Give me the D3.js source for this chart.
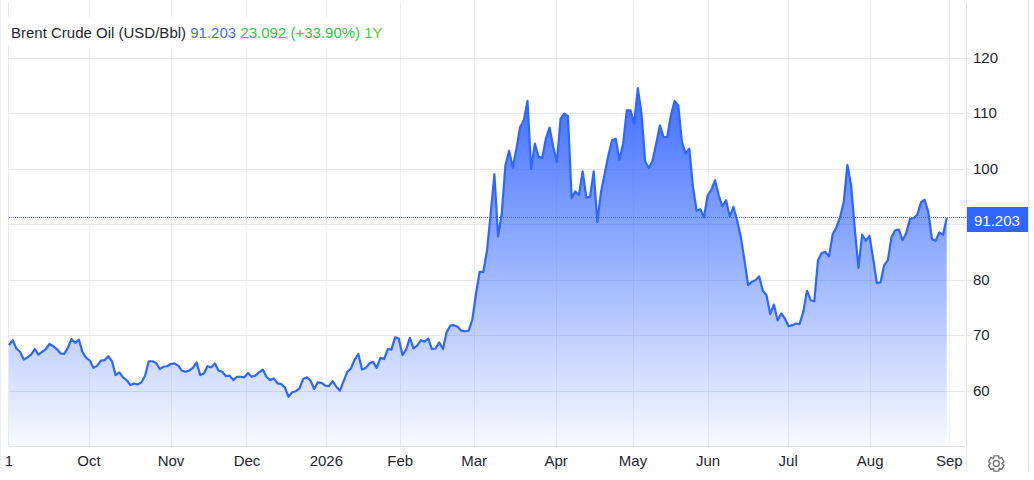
<!DOCTYPE html>
<html><head><meta charset="utf-8">
<script src="https://cdn.jsdelivr.net/npm/d3@7/dist/d3.min.js"></script>
<style>html,body{margin:0;padding:0;background:#fff}svg{display:block}text{font-family:"Liberation Sans",Arial,sans-serif}</style>
</head><body><svg id="c" width="1034" height="480"></svg>
<script>
const titleText="Brent Crude Oil (USD/Bbl)";
const lastValue=91.203;
const changeText="23.092";
const pctText="(+33.90%)";
const rangeText="1Y";
const prices=[68.3,69.2,67.7,67.1,65.7,66.1,66.6,67.6,66.6,67.1,67.6,68.5,68.1,67.6,66.8,66.7,67.8,69.4,68.7,69.3,67.0,66.0,65.5,64.2,64.6,65.5,65.6,66.3,65.4,62.9,63.4,62.5,62.0,61.1,61.4,61.2,61.6,62.8,65.4,65.4,65.1,64.0,64.4,64.5,64.9,65.0,64.6,63.7,63.5,63.7,64.2,65.2,62.9,63.2,64.5,64.3,65.0,63.7,63.5,62.7,62.8,62.0,62.6,62.6,62.5,63.3,62.6,62.8,63.4,63.9,62.6,62.0,62.3,61.4,61.3,60.7,59.0,59.8,60.0,60.5,62.2,62.5,61.9,60.4,61.6,61.5,61.0,60.9,61.8,60.8,60.1,
61.8,63.5,64.1,65.7,66.7,63.9,64.2,65.0,65.3,64.2,66.0,65.8,67.6,67.5,69.7,69.5,66.5,67.5,69.6,67.7,68.2,69.2,68.9,69.5,67.6,67.7,68.8,67.6,70.6,71.8,71.9,71.6,70.9,70.8,70.9,72.9,77.6,81.5,81.5,85.4,92.0,99.1,87.9,92.0,100.7,103.3,100.3,103.7,107.6,108.8,112.3,100.0,104.6,102.3,102.0,105.5,107.5,104.0,101.3,109.1,110.0,109.6,94.8,96.0,95.3,99.6,94.9,95.0,99.6,90.5,95.9,99.2,102.5,105.2,105.5,101.7,104.6,110.6,110.6,108.2,114.6,110.0,101.4,100.2,101.5,104.6,107.9,105.8,105.8,109.7,112.3,111.5,
104.9,102.8,103.7,96.8,92.5,92.8,91.3,95.3,96.3,98.0,95.3,93.3,94.4,91.5,93.2,90.8,87.8,83.6,79.1,79.7,80.0,80.7,78.1,77.3,73.9,75.6,72.8,74.0,73.1,71.7,71.9,72.2,72.1,74.3,78.1,76.4,76.2,83.6,84.9,85.1,84.3,88.3,89.5,91.3,94.1,100.8,97.1,89.3,82.2,88.2,87.1,88.0,83.9,79.5,79.6,82.7,83.6,87.8,89.0,89.1,87.2,88.5,91.0,91.2,91.8,94.0,94.5,92.3,87.4,87.1,88.6,88.2,91.203];
const yTicks=[60,70,80,90,100,110,120];
const yLabels=[60,70,80,null,100,110,120];
const xTickIdx=[0,21.76,44.06,64.72,86.3,106.4,126.5,148.8,169.7,190.1,211.9,234.2,255.7];
const xTickLabels=["1","Oct","Nov","Dec","2026","Feb","Mar","Apr","May","Jun","Jul","Aug","Sep"];

const svg=d3.select("#c");
const font='"Liberation Sans",Arial,sans-serif';
const ink="#23262e";
const x=d3.scaleLinear().domain([0,prices.length-1]).range([9,946.7]);
const y=d3.scaleLinear().domain([50,120]).range([446.7,58.2]);
const snap=v=>Math.floor(v)+0.5;
const defs=svg.append("defs");
const g=defs.append("linearGradient").attr("id","fill").attr("gradientUnits","userSpaceOnUse")
 .attr("x1",0).attr("x2",0).attr("y1",y(114.6)).attr("y2",446);
g.append("stop").attr("offset",0).attr("stop-color","#3366ff").attr("stop-opacity",0.95);
g.append("stop").attr("offset",1).attr("stop-color","#3366ff").attr("stop-opacity",0.03);

// outer frame
svg.append("line").attr("x1",0.5).attr("x2",0.5).attr("y1",0).attr("y2",471.5).attr("stroke","#eceef2");
svg.append("line").attr("x1",1028.5).attr("x2",1028.5).attr("y1",0).attr("y2",471.5).attr("stroke","#e6e7ee");

// grid
svg.append("g").selectAll("line").data(xTickIdx.slice(1)).join("line")
 .attr("x1",d=>snap(x(d))).attr("x2",d=>snap(x(d))).attr("y1",2).attr("y2",446)
 .attr("stroke","#eef0f5");
svg.append("line").attr("x1",8.5).attr("x2",8.5).attr("y1",2).attr("y2",446.5).attr("stroke","#e8eaee");
svg.append("line").attr("x1",966.5).attr("x2",966.5).attr("y1",2).attr("y2",446.5).attr("stroke","#e0e2e6");
svg.append("g").selectAll("line").data(yTicks).join("line")
 .attr("x1",9).attr("x2",965).attr("y1",d=>snap(y(d))).attr("y2",d=>snap(y(d)))
 .attr("stroke","#e6e8eb");
svg.append("g").selectAll("line").data(yTicks).join("line")
 .attr("x1",967).attr("x2",971).attr("y1",d=>snap(y(d))).attr("y2",d=>snap(y(d)))
 .attr("stroke","#e6e8eb");
// white box behind the title
svg.append("rect").attr("x",5).attr("y",17).attr("width",381).attr("height",29).attr("fill","#fff");

// area and line
const area=d3.area().x((d,i)=>x(i)).y0(446).y1(d=>y(d));
const line=d3.line().x((d,i)=>x(i)).y(d=>y(d));
svg.append("path").datum(prices).attr("d",area).attr("fill","url(#fill)");
svg.append("path").datum(prices).attr("d",line).attr("fill","none").attr("stroke","#2f66ff").attr("stroke-width",2.2).attr("stroke-linejoin","round");

// base and lower separator
svg.append("line").attr("x1",8.5).attr("x2",965).attr("y1",446.5).attr("y2",446.5).attr("stroke","#e0e2e6");
svg.append("line").attr("x1",966.5).attr("x2",966.5).attr("y1",450).attr("y2",471.5).attr("stroke","#e8eaee");

// last-value dotted line
const lastY=snap(y(lastValue)-0.6);
svg.append("line").attr("x1",9).attr("x2",967).attr("y1",lastY).attr("y2",lastY)
 .attr("stroke","#4a68d8").attr("stroke-width",1).attr("stroke-dasharray","1 1");

// y axis labels
const yAxis=d3.axisRight(y).tickValues(yTicks).tickSize(0).tickPadding(0).tickFormat(d=>{const l=yLabels[yTicks.indexOf(d)];return l===null?"":l;});
const ya=svg.append("g").attr("transform","translate(973,-1)").call(yAxis);
ya.select(".domain").remove();
ya.selectAll("text").attr("font-size",15).attr("fill",ink).style("font-family",font);

// x axis labels
const xAxis=d3.axisBottom(x).tickValues(xTickIdx).tickSize(0).tickPadding(0).tickFormat((d,i)=>xTickLabels[i]);
const xa=svg.append("g").attr("transform","translate(-0.5,455)").call(xAxis);
xa.select(".domain").remove();
xa.selectAll("text").attr("font-size",15).attr("fill",ink).style("font-family",font);

// title
const t=svg.append("text").attr("x",11).attr("y",38).attr("font-size",15);
t.append("tspan").attr("fill",ink).text(titleText);
t.append("tspan").attr("fill","#4a6cff").attr("dx",4.2).text(lastValue.toFixed(3));
t.append("tspan").attr("fill","#2ecc40").attr("dx",4.2).text(changeText);
t.append("tspan").attr("fill","#2ecc40").attr("dx",4.2).text(pctText);
t.append("tspan").attr("fill","#55cc33").attr("dx",4.2).text(rangeText);

// last value tag
svg.append("rect").attr("x",967).attr("y",207).attr("width",61).attr("height",25).attr("fill","#2f66ff");
svg.append("text").attr("x",974).attr("y",226).attr("font-size",15).attr("fill","#fff").text(lastValue.toFixed(3));

// settings gear
const cog=svg.append("g").attr("transform","translate(996.3,463.5)").attr("fill","none").attr("stroke","#757575");
cog.append("circle").attr("r",3).attr("stroke-width",1.4);
const gearPts=[];
for(let i=0;i<6;i++){const c=i/6*2*Math.PI+Math.PI/6;
 [[-0.30,8],[0.30,8],[0.52,5.6]].forEach(([da,r])=>gearPts.push([r*Math.cos(c+da),r*Math.sin(c+da)]));
 gearPts.push([5.6*Math.cos(c+Math.PI/3-0.52),5.6*Math.sin(c+Math.PI/3-0.52)]);}
cog.append("path").attr("d",d3.line().curve(d3.curveLinearClosed)(gearPts)).attr("stroke-width",1.4).attr("stroke-linejoin","round");
</script></body></html>
